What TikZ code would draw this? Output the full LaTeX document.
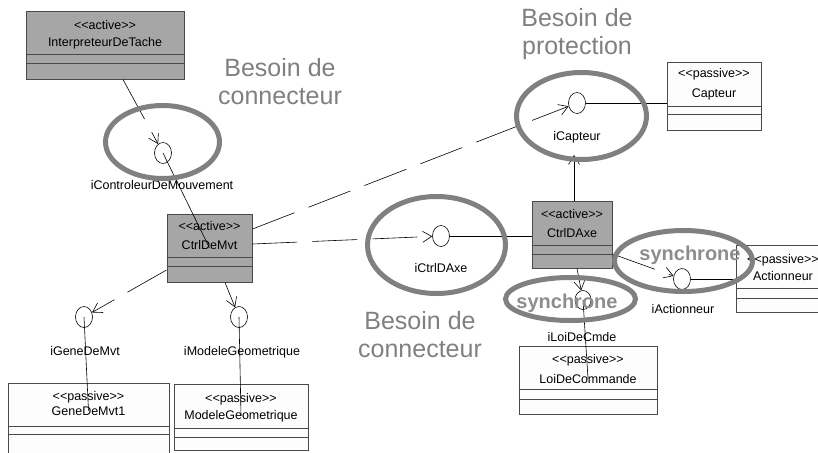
\documentclass[tikz,border=0pt]{standalone}
\usepackage{fontspec}
\setmainfont{Liberation Sans}
\usetikzlibrary{arrows.meta,shapes.geometric}
\definecolor{activefill}{HTML}{A6A6A6}
\definecolor{boxline}{HTML}{4A4A4A}
\definecolor{bigc}{HTML}{808080}
\definecolor{passfill}{HTML}{FDFDFD}
\newcommand{\stereo}[1]{\textless\kern0pt\textless\kern0pt#1\kern0pt\textgreater\kern0pt\textgreater}
\begin{document}
\begin{tikzpicture}[x=1pt,y=-1pt,
  activebox/.style={draw=boxline,line width=1,fill=activefill,rectangle,inner sep=0pt},
  passbox/.style={draw=boxline,line width=1,fill=passfill,rectangle,inner sep=0pt},
  comp/.style={draw=boxline,line width=0.8},
  txt/.style={font=\fontsize{12.5}{14}\selectfont,inner sep=0pt,anchor=base},
  iface/.style={ellipse,draw,line width=0.6,fill=white,minimum width=17,minimum height=21,inner sep=0pt},
  dep/.style={draw,line width=0.6,dash pattern=on 45pt off 15pt,-{Straight Barb[length=9pt,width=11pt,line width=0.6pt]}},
  solidline/.style={draw,line width=0.6},
  bigell/.style={draw=bigc,line width=5},
  bigtxt/.style={font=\fontsize{25}{28}\selectfont,text=bigc,inner sep=0pt,anchor=base},
  synctxt/.style={font=\bfseries\fontsize{20}{24}\selectfont,text=bigc!90,inner sep=0pt,anchor=base}]
\clip (0,0) rectangle (818,452);
\fill[white] (0,0) rectangle (818,452);

% ---------- class boxes ----------
\node[activebox,minimum width=158,minimum height=67] (interp) at (105,45.5) {};
\draw[comp] (interp.west |- 0,54) -- (interp.east |- 0,54);
\draw[comp] (interp.west |- 0,63) -- (interp.east |- 0,63);
\node[txt] (interpS) at (105,30) {\stereo{active}};
\node[txt] (interpN) at (105,47) {InterpreteurDeTache};

\node[activebox,minimum width=85,minimum height=68] (ctrlmvt) at (209.5,248) {};
\draw[comp] (ctrlmvt.west |- 0,257) -- (ctrlmvt.east |- 0,257);
\draw[comp] (ctrlmvt.west |- 0,266) -- (ctrlmvt.east |- 0,266);
\node[txt] (ctrlmvtS) at (209.5,230) {\stereo{active}};
\node[txt] (ctrlmvtN) at (209.5,249) {CtrlDeMvt};

\node[activebox,minimum width=80,minimum height=67] (ctrlaxe) at (572,234.5) {};
\draw[comp] (ctrlaxe.west |- 0,245) -- (ctrlaxe.east |- 0,245);
\draw[comp] (ctrlaxe.west |- 0,254) -- (ctrlaxe.east |- 0,254);
\node[txt] (ctrlaxeS) at (572,218) {\stereo{active}};
\node[txt] (ctrlaxeN) at (572,237) {CtrlDAxe};

\node[passbox,minimum width=94,minimum height=68] (captbox) at (714,96) {};
\draw[comp] (captbox.west |- 0,106) -- (captbox.east |- 0,106);
\draw[comp] (captbox.west |- 0,114) -- (captbox.east |- 0,114);
\node[txt] (captS) at (714,77) {\stereo{passive}};
\node[txt] (captN) at (714,97) {Capteur};

\node[passbox,minimum width=94,minimum height=67] (actbox) at (783,278.5) {};
\draw[comp] (actbox.west |- 0,288) -- (actbox.east |- 0,288);
\draw[comp] (actbox.west |- 0,298) -- (actbox.east |- 0,298);
\node[txt] (actS) at (783,263) {\stereo{passive}};
\node[txt] (actN) at (783,280) {Actionneur};

\node[passbox,minimum width=161,minimum height=80] (genebox) at (88.5,423) {};
\draw[comp] (genebox.west |- 0,426) -- (genebox.east |- 0,426);
\draw[comp] (genebox.west |- 0,434) -- (genebox.east |- 0,434);
\node[txt] (geneS) at (88.5,400) {\stereo{passive}};
\node[txt] (geneN) at (88.5,415) {GeneDeMvt1};

\node[passbox,minimum width=134,minimum height=66] (modbox) at (241,417) {};
\draw[comp] (modbox.west |- 0,428) -- (modbox.east |- 0,428);
\draw[comp] (modbox.west |- 0,437) -- (modbox.east |- 0,437);
\node[txt] (modS) at (241,402) {\stereo{passive}};
\node[txt] (modN) at (241,419) {ModeleGeometrique};

\node[passbox,minimum width=138,minimum height=68] (loibox) at (588,380) {};
\draw[comp] (loibox.west |- 0,389) -- (loibox.east |- 0,389);
\draw[comp] (loibox.west |- 0,399) -- (loibox.east |- 0,399);
\node[txt] (loiS) at (588,363) {\stereo{passive}};
\node[txt] (loiN) at (588,383) {LoiDeCommande};

% ---------- interfaces ----------
\node[iface] (ictrl) at (163,153) {};
\node[iface] (igene) at (84,317) {};
\node[iface] (imod) at (239,317) {};
\node[iface] (icapt) at (577,103) {};
\node[iface] (ictrlaxe) at (441,236) {};
\node[iface] (iact) at (682,279) {};
\node[iface,minimum width=16,minimum height=19] (iloi) at (583,300) {};

\node[txt] (lctrl) at (162,189) {iControleurDeMouvement};
\node[txt] (lgene) at (85,355) {iGeneDeMvt};
\node[txt] (lmod) at (242,355) {iModeleGeometrique};
\node[txt] (lcapt) at (577,140) {iCapteur};
\node[txt] (lctrlaxe) at (441,272) {iCtrlDAxe};
\node[txt] (lact) at (683,313) {iActionneur};
\node[txt] (lloi) at (582,341) {iLoiDeCmde};

% ---------- realisation lines ----------
\draw[solidline] (ictrl.center) -- (ctrlmvt.center);
\draw[solidline] (igene.center) -- (geneN.center);
\draw[solidline] (imod.center) -- (modN.center);
\draw[solidline] (iloi.center) -- (loiN.center);
\draw[solidline] (icapt.east) -- (icapt.east -| captbox.west);
\draw[solidline] (ictrlaxe.east) -- (ictrlaxe.east -| ctrlaxe.west);
\draw[solidline] (iact.east) -- (iact.east -| actbox.west);

% ---------- dependencies ----------
\coordinate (capin) at (574,155);
\draw[dep] ([xshift=18]interp.south) -- (ictrl);
\draw[dep] ([yshift=19]ctrlmvt.east) -- (icapt);
\draw[dep] ([yshift=4]ctrlmvt.east) -- (ictrlaxe);
\draw[dep] ([yshift=-22]ctrlmvt.west) -- (igene);
\draw[dep] ([xshift=15.5]ctrlmvt.south) -- (imod);
\draw[dep] ([xshift=2]ctrlaxe.north) -- (capin);
\draw[dep] ([yshift=-19.5]ctrlaxe.east) -- (iact);
\draw[dep] ([xshift=5]ctrlaxe.south) -- (iloi);

% ---------- annotation ellipses ----------
\draw[bigell] (162.5,142) ellipse [x radius=57, y radius=36.5];
\draw[bigell] (581.5,116) ellipse [x radius=65, y radius=43.5];
\draw[bigell] (436.5,245) ellipse [x radius=69, y radius=48.5];
\draw[bigell] (683.5,261) ellipse [x radius=69, y radius=30.5];
\draw[bigell] (570.5,299) ellipse [x radius=65, y radius=21.5];

% ---------- annotation texts ----------
\node[bigtxt] (b1a) at (280,76) {Besoin de};
\node[bigtxt] (b1b) at (280,104) {connecteur};
\node[bigtxt] (b2a) at (577,27) {Besoin de};
\node[bigtxt] (b2b) at (577,55) {protection};
\node[bigtxt] (b3a) at (420,329) {Besoin de};
\node[bigtxt] (b3b) at (420,357) {connecteur};
\node[synctxt] (s1) at (690,260) {synchrone};
\node[synctxt] (s2) at (567,308) {synchrone};
\end{tikzpicture}
\end{document}
